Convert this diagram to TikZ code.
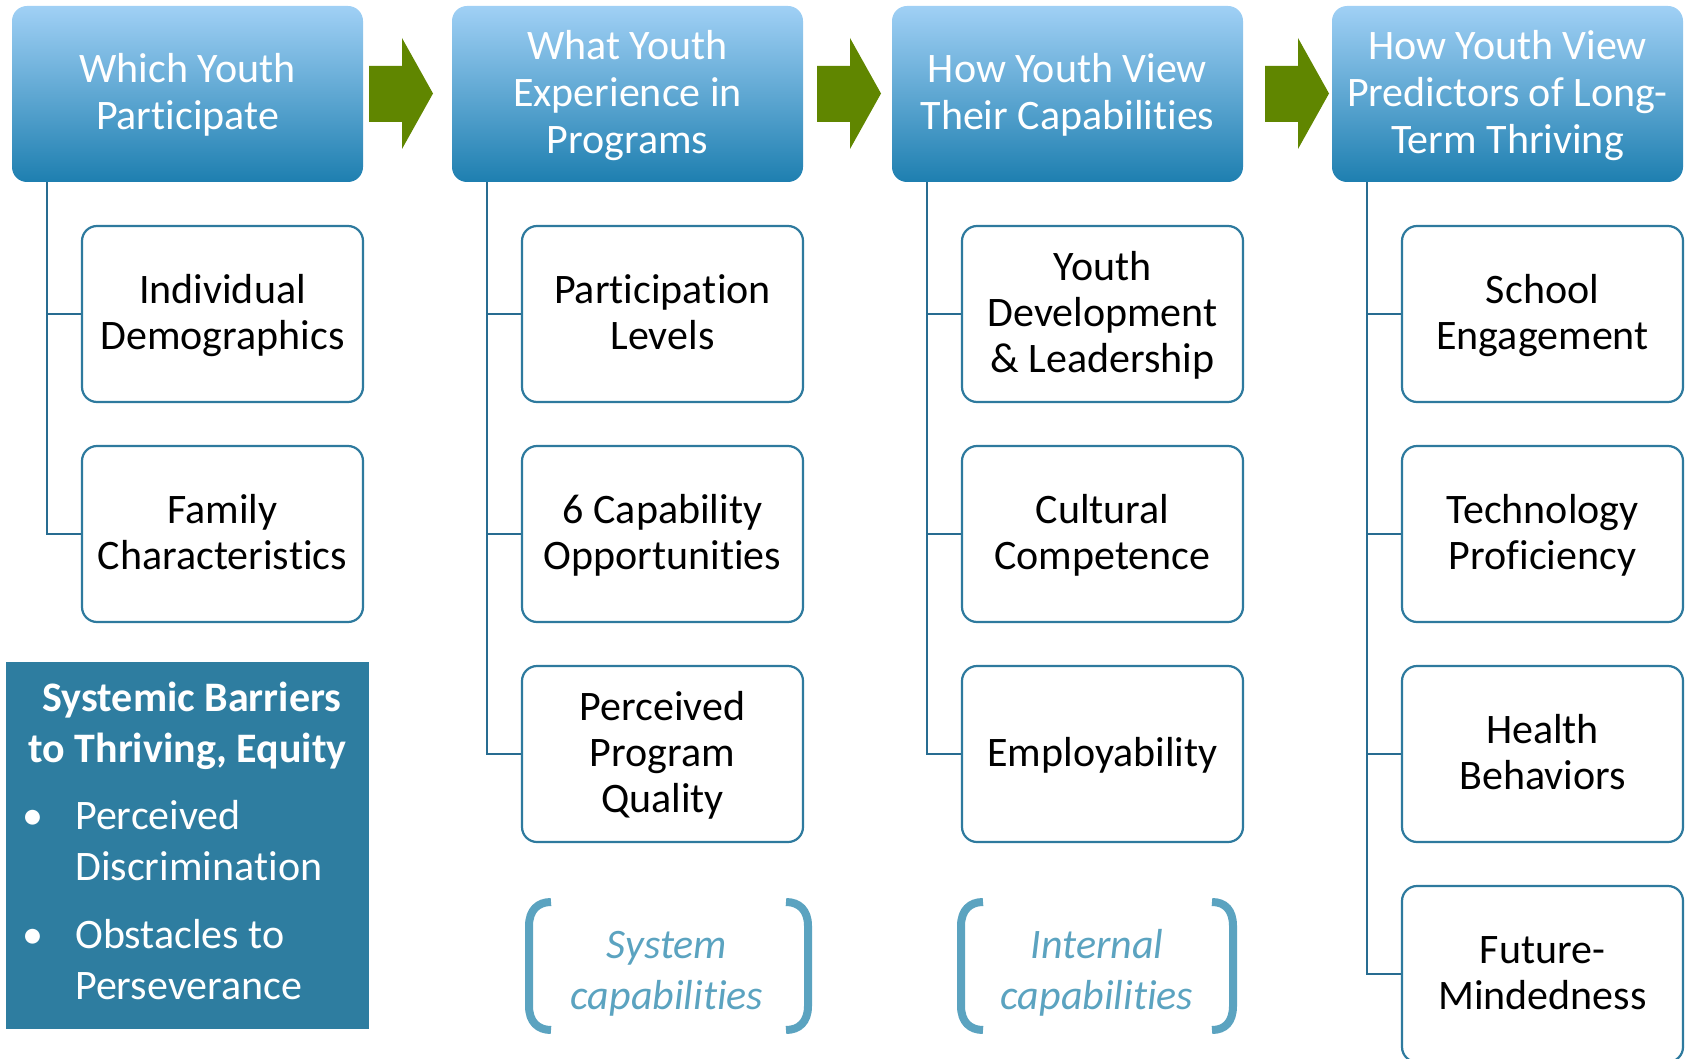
\documentclass[tikz,border=0pt]{standalone}
\usepackage{fontspec}
\setmainfont{Carlito}[Ligatures={NoCommon,NoContextual,NoRequired}, Contextuals=NoAlternate]
\definecolor{hdtop}{RGB}{160,208,245}
\definecolor{hdbot}{RGB}{30,127,176}
\definecolor{boxline}{RGB}{46,122,158}
\definecolor{treeline}{RGB}{40,108,145}
\definecolor{flowgreen}{RGB}{96,134,0}
\definecolor{barfill}{RGB}{46,125,160}
\definecolor{capblue}{RGB}{91,163,192}
% centred label block of fixed box height, set a little below the middle
\newcommand\boxlabel[2]{\parbox[c][176pt][c]{#1}{\centering\vspace*{6pt}\strut#2\strut\par}}
% break the glyph run so that t+i and f+i stay separate letters
\newcommand\nolig{\kern0pt}
\begin{document}
\begin{tikzpicture}[x=1pt,y=-1pt,
  header/.style={rounded corners=15pt, minimum width=351pt, minimum height=176pt,
    top color=hdtop, bottom color=hdbot, text=white,
    font=\fontsize{42}{47}\selectfont, inner sep=0pt},
  item/.style={draw=boxline, line width=2.2pt, rounded corners=15pt, fill=white,
    minimum width=281pt, minimum height=176pt,
    font=\fontsize{42}{46}\selectfont, inner sep=0pt},
  trunk/.style={draw=treeline, line width=2.2pt},
  flow/.style={fill=flowgreen},
  barrier/.style={fill=barfill, minimum width=363pt, minimum height=367pt, inner sep=0pt},
  bartitle/.style={text=white, font=\bfseries\fontsize{42}{51}\selectfont, anchor=base, inner sep=0pt},
  bartext/.style={text=white, font=\fontsize{42}{51}\selectfont, anchor=base west, inner sep=0pt},
  barbullet/.style={text=white, font=\fontsize{42}{51}\selectfont, anchor=base, inner sep=0pt},
  capbracket/.style={draw=capblue, line width=8pt},
  captext/.style={text=capblue, align=center, font=\itshape\fontsize{42}{51}\selectfont, inner sep=0pt}
]
\useasboundingbox (0,0) rectangle (1688,1059);
\clip (0,0) rectangle (1688,1059);

% column headers
\node[header] (h1) at (187.5,94) {\boxlabel{351pt}{Which Youth\\Participate}};
\node[header] (h2) at (627.5,94) {\boxlabel{351pt}{What Youth\\Experience in\\Programs}};
\node[header] (h3) at (1067.5,94) {\boxlabel{351pt}{How Youth View\\Their Capabilities}};
\node[header] (h4) at (1507.5,94) {\boxlabel{351pt}{How Youth View\\Predictors of Long-\\Term Thriving}};

% flow arrows between the headers
\foreach \ax in {369,817,1265}
  \fill[flow] (\ax,66) -- (\ax+33,66) -- (\ax+33,38) -- (\ax+64,93.5)
    -- (\ax+33,149) -- (\ax+33,122) -- (\ax,122) -- cycle;

% column 1
\node[item] (c1a) at (222.5,314) {\boxlabel{281pt}{Individual\\Demographics}};
\node[item] (c1b) at (222.5,534) {\boxlabel{281pt}{Family\\Characteris\nolig tics}};
% column 2
\node[item] (c2a) at (662.5,314) {\boxlabel{281pt}{Participa\nolig tion\\Levels}};
\node[item] (c2b) at (662.5,534) {\boxlabel{281pt}{6 Capability\\Opportuni\nolig ties}};
\node[item] (c2c) at (662.5,754) {\boxlabel{281pt}{Perceived\\Program\\Quality}};
% column 3
\node[item] (c3a) at (1102.5,314) {\boxlabel{281pt}{Youth\\Development\\\& Leadership}};
\node[item] (c3b) at (1102.5,534) {\boxlabel{281pt}{Cultural\\Competence}};
\node[item] (c3c) at (1102.5,754) {\boxlabel{281pt}{Employability}};
% column 4
\node[item] (c4a) at (1542.5,314) {\boxlabel{281pt}{School\\Engagement}};
\node[item] (c4b) at (1542.5,534) {\boxlabel{281pt}{Technology\\Pro\nolig ficiency}};
\node[item] (c4c) at (1542.5,754) {\boxlabel{281pt}{Health\\Behaviors}};
\node[item] (c4d) at (1542.5,974) {\boxlabel{281pt}{Future-\\Mindedness}};

% tree connectors
\foreach \h/\c in {h1/c1a,h1/c1b,h2/c2a,h2/c2b,h2/c2c,h3/c3a,h3/c3b,h3/c3c,h4/c4a,h4/c4b,h4/c4c,h4/c4d}
  \draw[trunk] ([xshift=35pt]\h.south west) |- (\c.west);

% systemic barriers panel
\node[barrier] (bar) at (187.5,845.5) {};
\node[bartitle] (bt1) at (192,711) {Systemic Barriers};
\node[bartitle] (bt2) at (187.5,762) {to Thriving, Equity};
\node[barbullet] (bu1) at (33,829) {•};
\node[barbullet] (bu2) at (33,948) {•};
\node[bartext] (bl1) at (75,829) {Perceived};
\node[bartext] (bl2) at (75,880) {Discrimina\nolig tion};
\node[bartext] (bl3) at (75,948) {Obstacles to};
\node[bartext] (bl4) at (75,999) {Perseverance};

% capability brackets
\draw[capbracket] (551,902) .. controls (538,902) and (529,910) .. (529,926) -- (529,1006)
  .. controls (529,1022) and (538,1030) .. (551,1030);
\draw[capbracket] (786,902) .. controls (799,902) and (808,910) .. (808,926) -- (808,1006)
  .. controls (808,1022) and (799,1030) .. (786,1030);
\node[captext] (sys) at (667,974) {\strut System\\\strut capabili\nolig ties};

\draw[capbracket] (983,902) .. controls (970,902) and (961,910) .. (961,926) -- (961,1006)
  .. controls (961,1022) and (970,1030) .. (983,1030);
\draw[capbracket] (1212,902) .. controls (1225,902) and (1233,910) .. (1233,926) -- (1233,1006)
  .. controls (1233,1022) and (1225,1030) .. (1212,1030);
\node[captext] (int) at (1097,974) {\strut Internal\\\strut capabili\nolig ties};
\end{tikzpicture}
\end{document}
